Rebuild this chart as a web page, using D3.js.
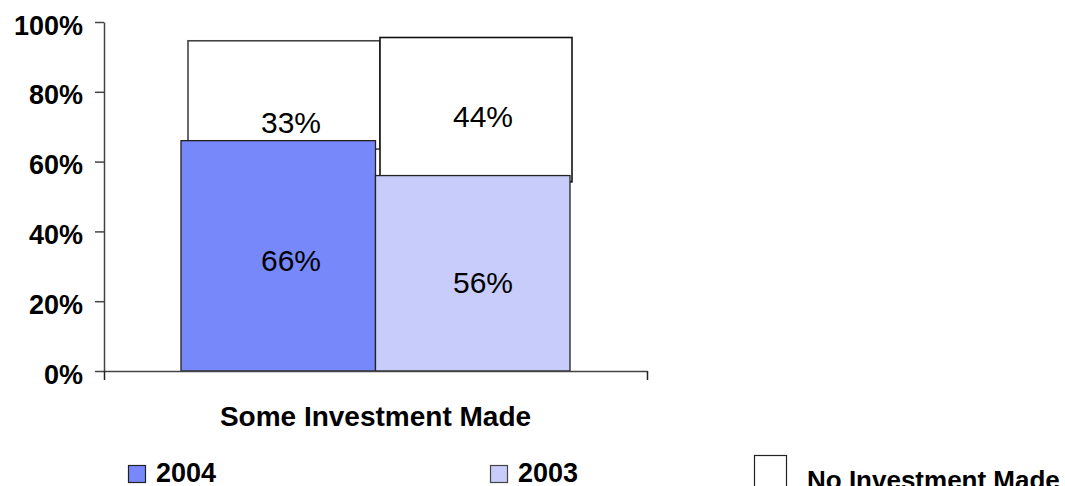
<!DOCTYPE html>
<html>
<head>
<meta charset="utf-8">
<script src="https://cdn.jsdelivr.net/npm/d3@7"></script>
<style>
  body { margin: 0; background: #fff; }
  svg { display: block; font-family: Arial, "Liberation Sans", sans-serif; }
</style>
</head>
<body>
<svg id="chart" width="1065" height="486"></svg>
<script>
// data
const categories = ["Some Investment Made"];
const years = ["2004", "2003"];
const someInvestment = [66, 56];
const noInvestment = [33, 44];
const yTicks = [0, 20, 40, 60, 80, 100];
const seriesColors = ["#7788fb", "#c8ccfb"];
const noneColor = "#ffffff";

const svg = d3.select("#chart");
const g = svg.append("g");

// front row scales
const y = d3.scaleLinear().domain([0, 100]).range([371, 22]);
const x = d3.scaleBand().domain(years).range([181, 570]).padding(0);
// back row (sits a little deeper, so slightly shifted / squeezed)
const yBack = d3.scaleLinear().domain([0, 100]).range([365.6, 37.5]);
const xBack = d3.scaleBand().domain(years).range([188, 572]).padding(0);
// plane where the data labels sit
const xLabel = d3.scaleBand().domain(years).range([195, 579]).padding(0);
const xAxisScale = d3.scaleLinear().domain([0, 1]).range([104, 647]);
const xCat = d3.scaleBand().domain(categories).range([104, 647]);

// back row: No Investment Made, stacked on top of the front value
g.append("g")
  .selectAll("rect")
  .data(years)
  .enter().append("rect")
  .attr("x", d => xBack(d))
  .attr("width", xBack.bandwidth())
  .attr("y", (d, i) => yBack(someInvestment[i] + noInvestment[i]))
  .attr("height", (d, i) => yBack(someInvestment[i]) - yBack(someInvestment[i] + noInvestment[i]))
  .attr("fill", noneColor)
  .attr("stroke", (d, i) => i === 0 ? "#444" : "#111")
  .attr("stroke-width", 1.6);

// front row bars
g.append("g")
  .selectAll("rect")
  .data(years)
  .enter().append("rect")
  .attr("x", d => x(d))
  .attr("width", x.bandwidth())
  .attr("y", (d, i) => y(someInvestment[i]))
  .attr("height", (d, i) => y(0) - y(someInvestment[i]))
  .attr("fill", (d, i) => seriesColors[i])
  .attr("stroke", "#222")
  .attr("stroke-width", 1.3);

// axes
const yAxis = g.append("g")
  .attr("transform", "translate(104,0)")
  .call(d3.axisLeft(y).tickValues(yTicks).tickSize(9).tickSizeOuter(0).tickPadding(12)
    .tickFormat(d => d + "%"));
yAxis.select(".domain").attr("stroke", "#444").attr("stroke-width", 1.5);
yAxis.selectAll(".tick line").attr("stroke", "#444").attr("stroke-width", 1.5);
yAxis.selectAll(".tick text")
  .attr("font-size", 27)
  .attr("font-weight", "bold")
  .attr("fill", "#000")
  .attr("dy", "0.45em");

const xAxis = g.append("g")
  .attr("transform", "translate(0,371)")
  .call(d3.axisBottom(xAxisScale).tickValues([0, 1]).tickSize(9).tickSizeOuter(0).tickFormat(""));
xAxis.select(".domain").attr("stroke", "#444").attr("stroke-width", 1.5);
xAxis.selectAll(".tick line").attr("stroke", "#222").attr("stroke-width", 1.5);

g.append("text")
  .attr("x", xCat(categories[0]) + xCat.bandwidth() / 2)
  .attr("y", 426)
  .attr("text-anchor", "middle")
  .attr("font-size", 28)
  .attr("font-weight", "bold")
  .text(categories[0]);

// data labels (small nudges like the original layout)
const frontNudge = [5, 9];
const backNudge = [27.5, 6.4];
g.append("g")
  .selectAll("text")
  .data(years)
  .enter().append("text")
  .attr("x", d => xLabel(d) + xLabel.bandwidth() / 2)
  .attr("y", (d, i) => y(someInvestment[i] / 2) + frontNudge[i])
  .attr("dy", "0.35em")
  .attr("text-anchor", "middle")
  .attr("font-size", 30)
  .text((d, i) => someInvestment[i] + "%");

g.append("g")
  .selectAll("text")
  .data(years)
  .enter().append("text")
  .attr("x", d => xLabel(d) + xLabel.bandwidth() / 2)
  .attr("y", (d, i) => yBack(someInvestment[i] + noInvestment[i] / 2) + backNudge[i])
  .attr("dy", "0.35em")
  .attr("text-anchor", "middle")
  .attr("font-size", 30)
  .text((d, i) => noInvestment[i] + "%");

// legend
const legendItems = [
  { label: years[0], color: seriesColors[0], x: 128, y: 465, size: 17, stroke: "#222" },
  { label: years[1], color: seriesColors[1], x: 490, y: 465, size: 17, stroke: "#444" },
  { label: "No Investment Made", color: noneColor, x: 754, y: 455, size: 32, stroke: "#222" }
];
const legend = g.append("g")
  .selectAll("g")
  .data(legendItems)
  .enter().append("g");

legend.append("rect")
  .attr("x", d => d.x + 0.5)
  .attr("y", d => d.y + 0.5)
  .attr("width", d => d.size)
  .attr("height", d => d.size)
  .attr("fill", d => d.color)
  .attr("stroke", d => d.stroke)
  .attr("stroke-width", 1.2);

legend.append("text")
  .attr("x", (d, i) => i === 2 ? d.x + 53 : d.x + 28)
  .attr("y", (d, i) => i === 2 ? 489 : 482)
  .attr("font-size", (d, i) => i === 2 ? 26 : 27)
  .attr("font-weight", "bold")
  .text(d => d.label);
</script>
</body>
</html>
